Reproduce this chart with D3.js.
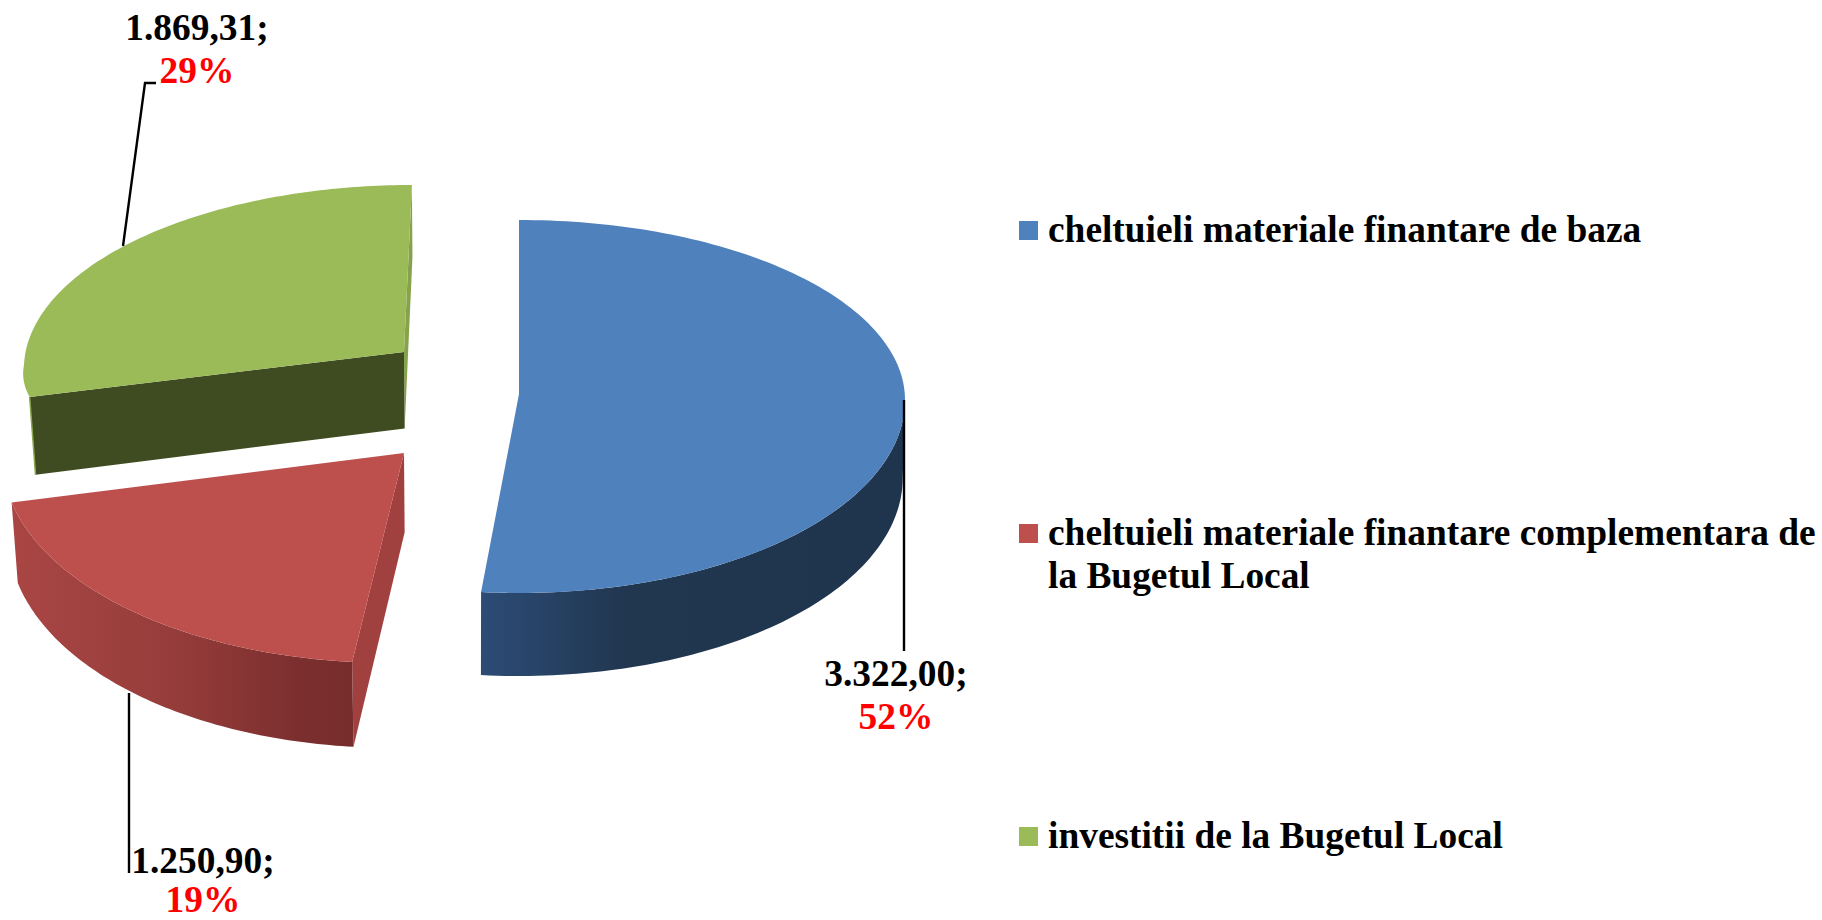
<!DOCTYPE html>
<html><head><meta charset="utf-8">
<script src="https://cdn.jsdelivr.net/npm/d3@7"></script>
<style>html,body{margin:0;padding:0;background:#fff;overflow:hidden}svg{display:block}
text{font-family:"Liberation Serif",serif;font-weight:bold}</style></head>
<body><svg id="c" width="1822" height="920"></svg>
<script>
const categories = ["cheltuieli materiale finantare de baza","cheltuieli materiale finantare complementara de","investitii de la Bugetul Local"];
const categoryContinuation = ["", "la Bugetul Local", ""];
const values = [3322.00, 1250.90, 1869.31];
const topColors = ["#4f81bd","#bd504d","#9bbb59"];

// Layout of the exploded, perspective-tilted slices (pixels)
const layout = [
  {cx:519,cy:394,arcDy:6,rx:386,ryT:180,ryB:193,shearT:0,shearB:0},
  {cx:404,cy:453,arcDy:-4,rx:402,ryT:170,ryB:214,shearT:-0.058,shearB:-0.058},
  {cx:404,cy:352,arcDy:13,rx:380,ryT:180,ryB:128,shearT:-0.044,shearB:-0.2}
];
const leaders = [
  [[904,400],[904,651]],
  [[129,693],[129,873]],
  [[123,246],[145,83],[156,83]]
];
const labelPos = [
  {x:896,y1:686,y2:729},
  {x:203,y1:873,y2:912},
  {x:197,y1:40,y2:83}
];
const legendRows = [
  {box:221,base:242},
  {box:524,base:545,base2:588},
  {box:827,base:848}
];
const FONT = 37.4;

const svg = d3.select("#c");
const nf = d3.formatLocale({decimal:",",thousands:".",grouping:[3],currency:["",""]}).format(",.2f");
const total = d3.sum(values);
const arcs = d3.pie().sort(null)(values);

function pt(g,a){
  const s=Math.sin(a), c=Math.cos(a);
  const dy = c>=0 ? -g.ryT*c : -g.ryB*c;
  const sh = c>=0 ? g.shearT : g.shearB;
  return [g.cx + g.rx*s + sh*dy, g.cy + g.arcDy + dy];
}
function ext(p){
  const f = p[0]<450 ? 0.014 : 0.005;
  return [p[0] + (450-p[0])*f, p[1] + 72 + (p[1]-185)*0.027];
}
function sample(a0,a1,n=80){ return d3.range(n+1).map(i=>a0+(a1-a0)*i/n); }
const line = d3.line();

const defs = svg.append("defs");
function grad(id,stops){
  const g=defs.append("linearGradient").attr("id",id).attr("gradientUnits","userSpaceOnUse")
    .attr("x1",stops.x1).attr("x2",stops.x2).attr("y1",0).attr("y2",0);
  stops.s.forEach(([o,c])=>g.append("stop").attr("offset",o).attr("stop-color",c));
}
grad("sideBlue",{x1:480,x2:904,s:[[0,"#2c4c76"],[.35,"#21364f"],[1,"#1f344d"]]});
grad("sideRed",{x1:17,x2:355,s:[[0,"#a94644"],[.45,"#963d3b"],[.85,"#7b2e2e"],[1,"#772d2d"]]});

// blue
{
  const g=layout[0], d=arcs[0];
  const side=sample(Math.PI/2,d.endAngle).map(a=>pt(g,a));
  svg.append("path").attr("d",line(side.concat(side.map(ext).reverse()))+"Z").attr("fill","url(#sideBlue)");
  const top=[[g.cx,g.cy]].concat(sample(d.startAngle,d.endAngle,160).map(a=>pt(g,a)));
  svg.append("path").attr("d",line(top)+"Z").attr("fill",topColors[0]);
}
// red
{
  const g=layout[1], d=arcs[1];
  const c=[g.cx,g.cy], s0=pt(g,d.startAngle);
  const side=sample(d.startAngle,d.endAngle).map(a=>pt(g,a));
  svg.append("path").attr("d",line([c,ext(c),ext(s0),s0])+"Z").attr("fill","#a04140");
  svg.append("path").attr("d",line(side.concat(side.map(ext).reverse()))+"Z").attr("fill","url(#sideRed)");
  svg.append("path").attr("d",line([c].concat(side))+"Z").attr("fill",topColors[1]);
}
// green
{
  const g=layout[2], d=arcs[2];
  const c=[g.cx,g.cy], e0=pt(g,d.startAngle), e1=pt(g,d.endAngle);
  const arc=sample(d.startAngle,d.endAngle,120).map(a=>pt(g,a));
  svg.append("path").attr("d",line([e1,ext(e1),ext(c),c])+"Z").attr("fill","#86a34b");
  svg.append("path").attr("d",line([e0,ext(e0),ext(c),c])+"Z").attr("fill","#3f4b20");
  svg.append("path").attr("d",line([e0,ext(e0)])).attr("stroke","#8aa84e").attr("stroke-width",1.5).attr("fill","none");
  svg.append("path").attr("d",line([c].concat(arc))+"Z").attr("fill",topColors[2]);
}

// leader lines
svg.selectAll("path.leader").data(leaders).join("path").attr("class","leader")
  .attr("d",d=>line(d)).attr("fill","none").attr("stroke","#000").attr("stroke-width",2.4);

// data labels
const lab = svg.selectAll("g.lab").data(arcs).join("g").attr("class","lab");
lab.append("text").attr("x",(d,i)=>labelPos[i].x).attr("y",(d,i)=>labelPos[i].y1)
  .attr("text-anchor","middle").attr("font-size",FONT).attr("fill","#000")
  .text(d=>nf(d.value)+";");
lab.append("text").attr("x",(d,i)=>labelPos[i].x).attr("y",(d,i)=>labelPos[i].y2)
  .attr("text-anchor","middle").attr("font-size",FONT).attr("fill","#f00")
  .text(d=>Math.round(d.value/total*100)+"%");

// legend
const leg = svg.selectAll("g.leg").data(categories).join("g").attr("class","leg");
leg.append("rect").attr("x",1019).attr("y",(d,i)=>legendRows[i].box).attr("width",19).attr("height",19)
  .attr("fill",(d,i)=>topColors[i]);
leg.append("text").attr("x",1048).attr("y",(d,i)=>legendRows[i].base).attr("font-size",FONT).attr("fill","#000").text(d=>d);
leg.filter((d,i)=>categoryContinuation[i]).append("text").attr("x",1048)
  .attr("y",(d,i)=>legendRows[1].base2).attr("font-size",FONT).attr("fill","#000").text(categoryContinuation[1]);
</script></body></html>
